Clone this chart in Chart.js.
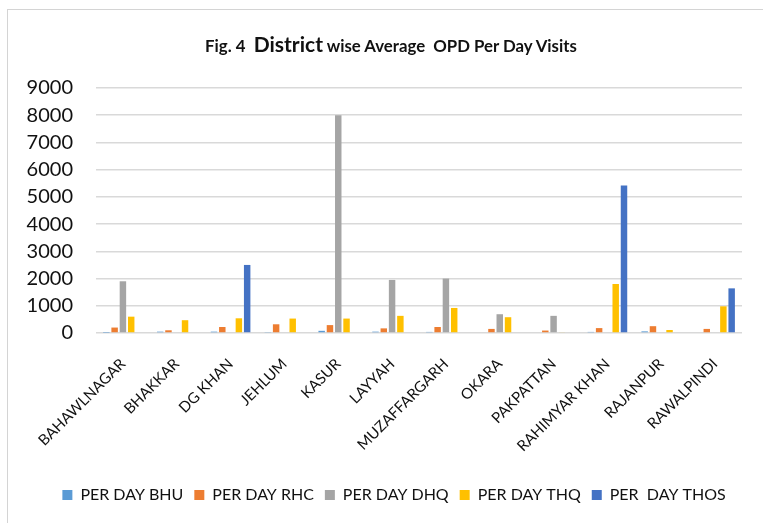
<!DOCTYPE html>
<html>
<head>
<meta charset="utf-8">
<script src="https://cdn.jsdelivr.net/npm/chart.js"></script>
<style>
  body { margin: 0; background: #fff; }
  #wrap { position: relative; width: 763px; height: 523px; overflow: hidden; }
  #frame { position: absolute; left: 7px; top: 9px; width: 820px; height: 620px; border: 1px solid #d4d4d4; }
  #title { position: absolute; top: 31px; left: 0; width: 782px; text-align: center; white-space: pre;
           font-family: Lato, sans-serif; font-weight: bold; font-size: 16.8px; color: #111; }
  #title .big { font-size: 21px; }
  canvas { position: absolute; left: 0; top: 0; }
</style>
</head>
<body>
<div id="wrap">
  <div id="frame"></div>
  <canvas id="myChart" width="763" height="523"></canvas>
  <div id="title">Fig. 4  <span class="big">District</span> wise Average  OPD Per Day Visits</div>
</div>
<script>
// data
const districts = ['BAHAWLNAGAR', 'BHAKKAR', 'DG KHAN', 'JEHLUM', 'KASUR', 'LAYYAH', 'MUZAFFARGARH',
                   'OKARA', 'PAKPATTAN', 'RAHIMYAR KHAN', 'RAJANPUR', 'RAWALPINDI'];
const perDayBhu  = [10, 50, 50, 20, 80, 50, 40, 0, 0, 40, 60, 0];
const perDayRhc  = [200, 100, 220, 320, 290, 170, 220, 150, 90, 180, 250, 150];
const perDayDhq  = [1900, 0, 0, 0, 8000, 1950, 2000, 690, 630, 0, 0, 0];
const perDayThq  = [600, 470, 540, 530, 530, 630, 920, 580, 30, 1800, 110, 980];
const perDayThos = [0, 0, 2500, 0, 0, 0, 0, 0, 0, 5420, 0, 1640];
const yTicks = [0, 1000, 2000, 3000, 4000, 5000, 6000, 7000, 8000, 9000];

const font = 'Lato, sans-serif';

// nudge the legend a little right/down to sit like the original
const legendNudge = {
    id: 'legendNudge',
    afterLayout(chart) {
        const lg = chart.legend;
        lg.left += 13; lg.right += 13;
        lg.top += 2; lg.bottom += 2;
    }
};

// chart
const ctx = document.getElementById('myChart');
let myChart = new Chart(ctx, {
    type: 'bar',
    data: {
        labels: districts,
        datasets: [
            { label: 'PER DAY BHU', data: perDayBhu, backgroundColor: '#5B9BD5' },
            { label: 'PER DAY RHC', data: perDayRhc, backgroundColor: '#ED7D31' },
            { label: 'PER DAY DHQ', data: perDayDhq, backgroundColor: '#A5A5A5' },
            { label: 'PER DAY THQ', data: perDayThq, backgroundColor: '#FFC000' },
            { label: 'PER  DAY THOS', data: perDayThos, backgroundColor: '#4472C4' }
        ]
    },
    plugins: [legendNudge],
    options: {
        responsive: false,
        animation: false,
        categoryPercentage: 0.77,
        barPercentage: 0.78,
        layout: { padding: { left: 20, right: 21, top: 88, bottom: 12 } },
        plugins: {
            title: { display: false },
            tooltip: { enabled: false },
            legend: {
                position: 'bottom',
                labels: {
                    boxWidth: 10, boxHeight: 10, padding: 11,
                    color: '#111',
                    font: { family: font, size: 16 }
                }
            }
        },
        scales: {
            x: {
                grid: { display: false },
                border: { display: false },
                ticks: {
                    color: '#111',
                    minRotation: 45, maxRotation: 45,
                    autoSkip: false,
                    padding: 14,
                    font: { family: font, size: 15 }
                },
                afterFit: scale => { scale.height = 141; }
            },
            y: {
                min: 0, max: 9000,
                afterBuildTicks: scale => { scale.ticks = yTicks.map(v => ({ value: v })); },
                grid: { color: '#d9d9d9', lineWidth: 1.5, drawTicks: false },
                border: { display: false },
                ticks: {
                    color: '#111',
                    padding: 23,
                    font: { family: font, size: 20 },
                    callback: v => String(v)
                },
                afterFit: scale => { scale.width = 76; }
            }
        }
    }
});
</script>
</body>
</html>
